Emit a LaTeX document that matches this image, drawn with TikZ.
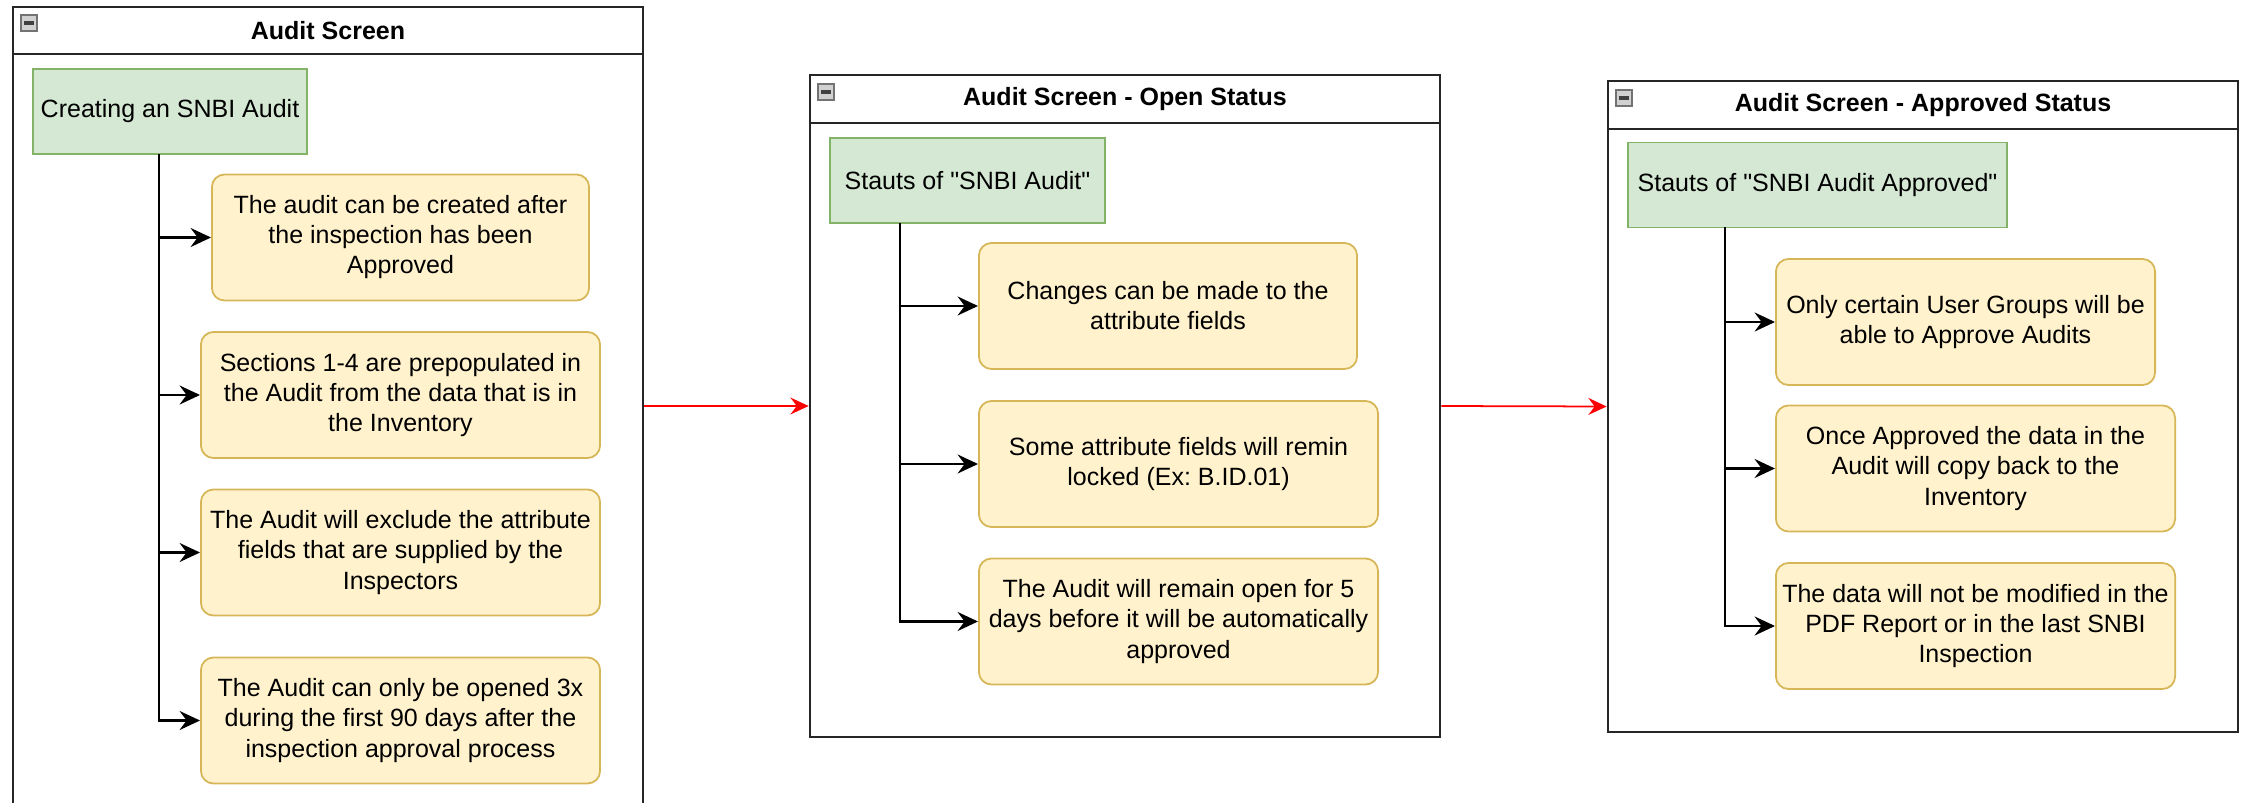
\documentclass[tikz,border=0pt]{standalone}
\usepackage{fontspec}
\setmainfont{Liberation Sans}
\usetikzlibrary{arrows.meta}
\frenchspacing

\definecolor{statusfill}{HTML}{D5E8D4}
\definecolor{statusline}{HTML}{82B366}
\definecolor{notefill}{HTML}{FFF2CC}
\definecolor{noteline}{HTML}{D6B656}

\begin{document}
\begin{tikzpicture}[x=0.01cm,y=-0.01cm,
		every node/.style={font=\fontsize{7.11}{8.54}\selectfont},
		panel/.style={draw=black!85,line width=0.65pt,minimum width=6.3cm,inner sep=0pt},
		heading/.style={font=\fontsize{7.11}{8.54}\selectfont\bfseries},
		status/.style={draw=statusline,fill=statusfill,line width=0.5pt,minimum height=0.85cm,inner sep=0pt},
		note/.style={draw=noteline,fill=notefill,line width=0.5pt,rounded corners=3.6pt,minimum height=1.26cm,align=center,inner sep=0pt},
		conn/.style={draw=black,line width=0.6pt,-{Stealth[length=5.8pt,width=5.4pt,inset=2pt]}},
		flow/.style={draw=red,line width=0.5pt,-{Stealth[length=5.2pt,width=4.8pt,inset=1.8pt]}},
		icon/.style={draw=black!55,fill=black!18,line width=0.4pt},
		iconbar/.style={draw=black!75,line width=0.9pt}]
		\useasboundingbox (0,0) rectangle (2247,803);

		% first screen
		\node[panel,minimum height=8.33cm] (p1) at (328,423.5) {};
		\draw[panel] (13,54) -- (643,54);
		\draw[icon] (21,15) rectangle (37,31);
		\draw[iconbar] (24,23) -- (34,23);
		\node[heading] (h1) at (328,30.5) {Audit Screen};

		\node[status,minimum width=2.74cm] (g1) at (170,111.5) {Creating an SNBI Audit};
		\coordinate (t1) at (159,154);

		\node[note,minimum width=3.77cm] (a1) at (400.5,237.5) {The audit can be created after\\the inspection has been\\Approved};
		\node[note,minimum width=3.99cm] (a2) at (400.5,395) {Sections 1-4 are prepopulated in\\the Audit from the data that is in\\the Inventory};
		\node[note,minimum width=3.99cm] (a3) at (400.5,552.5) {The Audit will exclude the attribute\\fields that are supplied by the\\Inspectors};
		\node[note,minimum width=3.99cm] (a4) at (400.5,720.5) {The Audit can only be opened 3x\\during the first 90 days after the\\inspection approval process};

		\draw[conn] (t1) |- (a1.west);
		\draw[conn] (t1) |- (a2.west);
		\draw[conn] (t1) |- (a3.west);
		\draw[conn] (t1) |- (a4.west);

		% open status
		\node[panel,minimum height=6.62cm] (p2) at (1125,406) {};
		\draw[panel] (810,123) -- (1440,123);
		\draw[icon] (818,84) rectangle (834,100);
		\draw[iconbar] (821,92) -- (831,92);
		\node[heading] (h2) at (1125,99) {Audit Screen - Open Status};

		\node[status,minimum width=2.75cm] (g2) at (967.5,180.5) {Stauts of \textquotedbl SNBI Audit\textquotedbl};
		\coordinate (t2) at (900,223);

		\node[note,minimum width=3.78cm] (b1) at (1168,306) {Changes can be made to the\\attribute fields};
		\node[note,minimum width=3.99cm] (b2) at (1178.5,464) {Some attribute fields will remin\\locked (Ex: B.ID.01)};
		\node[note,minimum width=3.99cm] (b3) at (1178.5,621.5) {The Audit will remain open for 5\\days before it will be automatically\\approved};

		\draw[conn] (t2) |- (b1.west);
		\draw[conn] (t2) |- (b2.west);
		\draw[conn] (t2) |- (b3.west);

		% approved status
		\node[panel,minimum height=6.51cm] (p3) at (1923,406.5) {};
		\draw[panel] (1608,129) -- (2238,129);
		\draw[icon] (1616,90) rectangle (1632,106);
		\draw[iconbar] (1619,98) -- (1629,98);
		\node[heading] (h3) at (1923,105) {Audit Screen - Approved Status};

		\node[status,minimum width=3.79cm] (g3) at (1817.5,185) {Stauts of \textquotedbl SNBI Audit Approved\textquotedbl};
		\coordinate (t3) at (1725,227);

		\node[note,minimum width=3.79cm] (c1) at (1965.5,322) {Only certain User Groups will be\\able to Approve Audits};
		\node[note,minimum width=3.99cm] (c2) at (1975.5,468.5) {Once Approved the data in the\\Audit will copy back to the\\Inventory};
		\node[note,minimum width=3.99cm] (c3) at (1975.5,626) {The data will not be modified in the\\PDF Report or in the last SNBI\\Inspection};

		\draw[conn] (t3) |- (c1.west);
		\draw[conn] (t3) |- (c2.west);
		\draw[conn] (t3) |- (c3.west);

		% screen to screen
		\draw[flow] (p1.east |- p2.west) -- (p2.west);
		\draw[flow] (p2.east) -- (p3.west);
	\end{tikzpicture}
\end{document}
